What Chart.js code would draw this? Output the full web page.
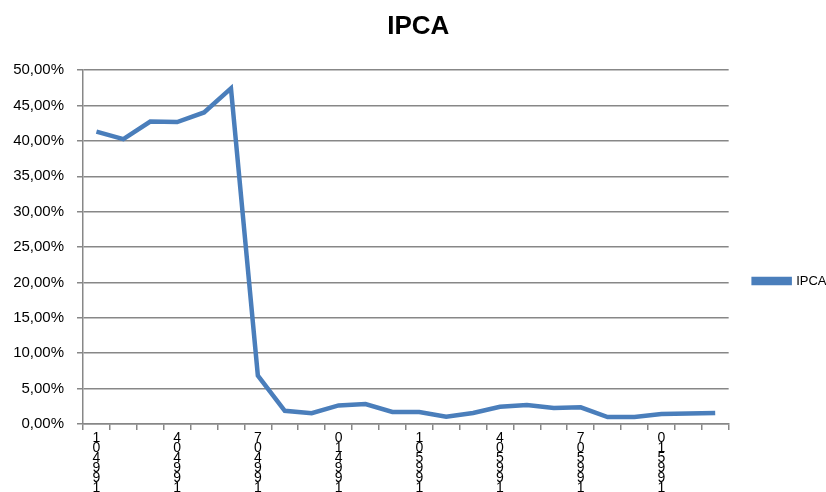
<!DOCTYPE html>
<html>
<head>
<meta charset="utf-8">
<script src="https://cdn.jsdelivr.net/npm/chart.js@4/dist/chart.umd.min.js"></script>
<style>
  html, body { margin: 0; padding: 0; background: #ffffff; }
  #wrap { width: 826px; height: 492px; }
</style>
</head>
<body>
<div id="wrap"><canvas id="c" width="826" height="492"></canvas></div>
<script>
// Monthly periods (year + month) for 1994–1995
const months = [
  '199401','199402','199403','199404','199405','199406',
  '199407','199408','199409','199410','199411','199412',
  '199501','199502','199503','199504','199505','199506',
  '199507','199508','199509','199510','199511','199512'
];
// IPCA monthly variation, in percent
const ipca = [
  41.31, 40.27, 42.75, 42.68, 44.03, 47.43,
  6.84, 1.86, 1.53, 2.62, 2.81, 1.71,
  1.70, 1.02, 1.55, 2.43, 2.67, 2.26,
  2.36, 0.99, 0.99, 1.41, 1.47, 1.56
];
const yTicks = [0, 5, 10, 15, 20, 25, 30, 35, 40, 45, 50];

const gridGrey = '#878787';
const fontFamily = "'Liberation Sans', Arial, sans-serif";

new Chart(document.getElementById('c'), {
  type: 'line',
  data: {
    labels: months,
    datasets: [{
      label: 'IPCA',
      data: ipca,
      borderColor: '#4a7ebb',
      backgroundColor: '#4a7ebb',
      borderWidth: 4.5,
      pointRadius: 0,
      pointHoverRadius: 0,
      tension: 0,
      fill: false
    }]
  },
  options: {
    responsive: false,
    animation: false,
    layout: { padding: { left: 0, right: -10.5, top: 0, bottom: 0 } },
    plugins: {
      title: {
        display: true,
        text: 'IPCA',
        color: '#000000',
        font: { family: fontFamily, size: 26, weight: 'bold' },
        padding: { top: 11, bottom: 28 }
      },
      legend: {
        display: true,
        position: 'right',
        align: 'center',
        // empty legend title: spacer that lowers the legend entry
        title: {
          display: true,
          text: '',
          font: { family: fontFamily, size: 12 },
          padding: { top: 55.6, bottom: 0 }
        },
        labels: {
          color: '#000000',
          font: { family: fontFamily, size: 13 },
          boxWidth: 36,
          boxHeight: 4,
          padding: 25
        }
      },
      tooltip: { enabled: false }
    },
    scales: {
      x: {
        type: 'category',
        offset: true,
        afterFit: (scale) => { scale.height = 68; },
        grid: {
          offset: true,
          drawOnChartArea: false,
          drawTicks: true,
          tickLength: 6,
          color: gridGrey,
          lineWidth: 1.5
        },
        border: { color: gridGrey, width: 1.5 },
        ticks: {
          autoSkip: false,
          maxRotation: 0,
          minRotation: 0,
          padding: 3,
          color: '#000000',
          font: { family: fontFamily, size: 14, lineHeight: 0.72 },
          // period code written as a vertical stack of characters, every third month
          callback: function (value, index) {
            if (index % 3 !== 0) return '';
            return this.getLabelForValue(value).split('').reverse();
          }
        }
      },
      y: {
        min: 0,
        max: 50,
        afterFit: (scale) => { scale.width = 83; },
        afterBuildTicks: (scale) => { scale.ticks = yTicks.map(v => ({ value: v })); },
        grid: {
          color: gridGrey,
          lineWidth: 1.5,
          tickLength: 6
        },
        border: { color: gridGrey, width: 1.5 },
        ticks: {
          padding: 13,
          color: '#000000',
          font: { family: fontFamily, size: 15 },
          callback: (v) => v.toFixed(2).replace('.', ',') + '%'
        }
      }
    }
  }
});
</script>
</body>
</html>
